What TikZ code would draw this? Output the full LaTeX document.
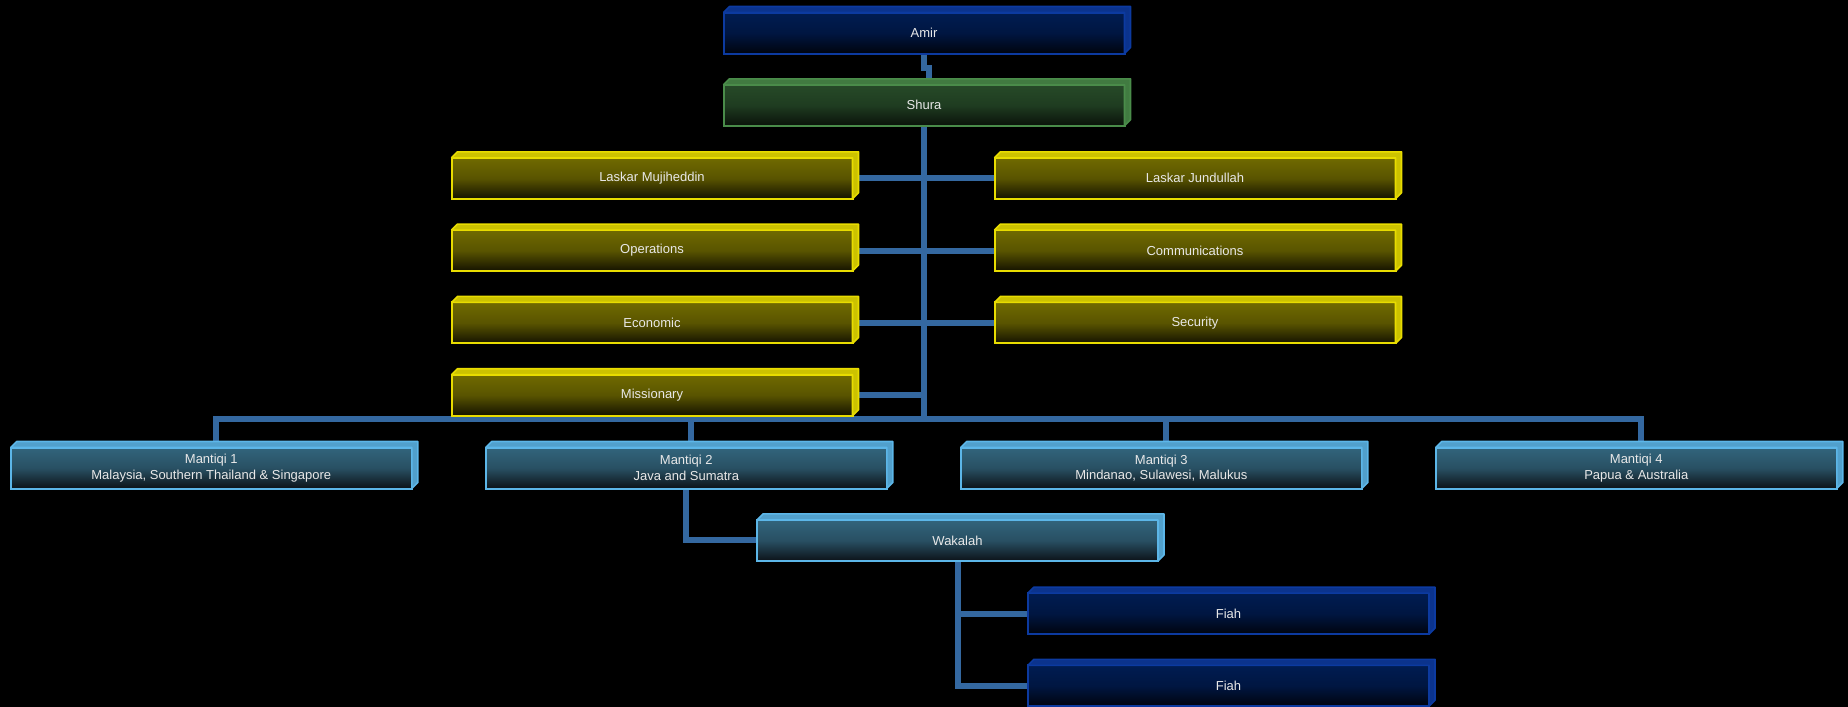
\documentclass[tikz,border=0pt]{standalone}
\usepackage{fontspec}
\setmainfont{Liberation Sans}
\usetikzlibrary{calc, backgrounds}

\definecolor{linkblue}{RGB}{52,104,160}
\definecolor{txt}{RGB}{232,232,232}
\definecolor{edgenavy}{RGB}{12,58,160}
\definecolor{topnavy}{RGB}{0,28,82}
\definecolor{botnavy}{RGB}{0,4,14}
\definecolor{edgegreen}{RGB}{74,140,74}
\definecolor{topgreen}{RGB}{38,74,40}
\definecolor{botgreen}{RGB}{10,18,10}
\definecolor{edgeyellow}{RGB}{232,220,0}
\definecolor{topyellow}{RGB}{112,106,0}
\definecolor{botyellow}{RGB}{20,18,0}
\definecolor{edgecyan}{RGB}{92,182,232}
\definecolor{topcyan}{RGB}{50,100,124}
\definecolor{botcyan}{RGB}{12,18,24}

\begin{document}
\begin{tikzpicture}[x=1pt, y=-1pt,
  unit/.style={draw=edge#1, line width=2pt, top color=top#1, bottom color=bot#1,
    middle color=top#1!75!bot#1, minimum width=401pt, minimum height=41pt,
    inner sep=0pt, outer sep=0pt, text=txt, align=center,
    font=\fontsize{13}{15.6}\selectfont},
  link/.style={linkblue, line width=6pt}]

        % picture frame, black page
        \useasboundingbox (0,0) rectangle (1848,707);

	% leadership
	\node[unit=navy] (amir) at (924,33) {Amir};
	\node[unit=green] (shura) at (924,105.3) {Shura};

	% committees, left and right of the trunk
	\node[unit=yellow] (mujiheddin) at (652,178.3) {Laskar Mujiheddin};
	\node[unit=yellow] (operations) at (652,250.6) {Operations};
	\node[unit=yellow] (economic) at (652,322.9) {Economic};
	\node[unit=yellow] (missionary) at (652,395.2) {Missionary};
	\node[unit=yellow] (jundullah) at (1195,178.3) {Laskar Jundullah};
	\node[unit=yellow] (communications) at (1195,250.6) {Communications};
	\node[unit=yellow] (security) at (1195,322.9) {Security};

	% regional commands
	\node[unit=cyan] (mantiqi1) at (211.3,468) {Mantiqi 1\\Malaysia, Southern Thailand \& Singapore};
	\node[unit=cyan] (mantiqi2) at (686.3,468) {Mantiqi 2\\Java and Sumatra};
	\node[unit=cyan] (mantiqi3) at (1161.3,468) {Mantiqi 3\\Mindanao, Sulawesi, Malukus};
	\node[unit=cyan] (mantiqi4) at (1636.3,468) {Mantiqi 4\\Papua \& Australia};
	\node[unit=cyan] (wakalah) at (957.5,540.4) {Wakalah};
	\node[unit=navy] (fiah1) at (1228.5,613.6) {Fiah};
	\node[unit=navy] (fiah2) at (1228.5,685.8) {Fiah};

	% 3d top and side faces
	\foreach \n/\c in {amir/navy, shura/green, mujiheddin/yellow, operations/yellow,
	    economic/yellow, missionary/yellow, jundullah/yellow, communications/yellow,
	    security/yellow, mantiqi1/cyan, mantiqi2/cyan, mantiqi3/cyan, mantiqi4/cyan,
	    wakalah/cyan, fiah1/navy, fiah2/navy}
		\filldraw[draw=edge\c, fill=edge\c!88!black, line width=1.6pt, line join=bevel]
		  (\n.north west) -- ++(6,-6) -- ($(\n.north east)+(6,-6)$) -- ($(\n.south east)+(6,-6)$)
		  -- (\n.south east) -- (\n.north east) -- cycle;

	\begin{scope}[on background layer]
	\fill[black] (0,0) rectangle (1848,707);
	% connectors
	\draw[link] (amir.south) -- ++(0,14) -- ++(5,0) |- (shura.north);
	\foreach \m in {mantiqi1, mantiqi2, mantiqi3, mantiqi4}
		\draw[link] (shura.south) |- ($(\m.north)+(5,-29)$) -- ($(\m.north)+(5,0)$);
	\foreach \n in {mujiheddin, operations, economic, missionary}
		\draw[link] (\n.east) -- (\n.east -| shura.south);
	\foreach \n in {jundullah, communications, security}
		\draw[link] (shura.south |- \n.west) -- (\n.west);
	\draw[link] (mantiqi2.south) |- (wakalah.west);
	\draw[link] (wakalah.south) |- (fiah1.west);
	\draw[link] (wakalah.south) |- (fiah2.west);
	\end{scope}

\end{tikzpicture}
\end{document}
